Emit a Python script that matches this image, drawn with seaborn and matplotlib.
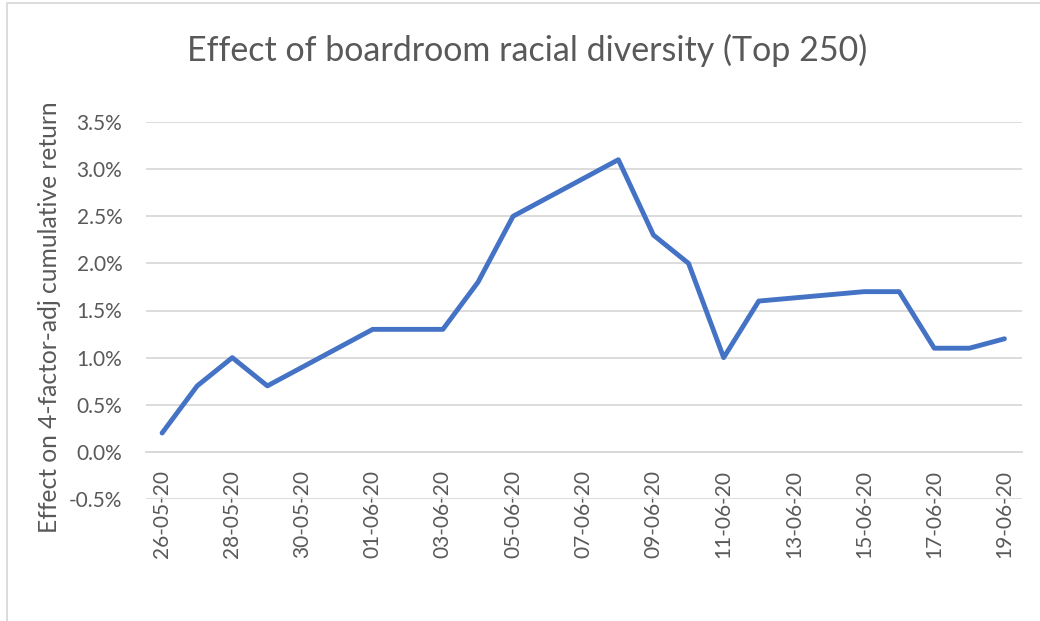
import matplotlib
matplotlib.use("Agg")
import matplotlib.pyplot as plt
import matplotlib.dates as mdates
from matplotlib.patches import Rectangle
from matplotlib.ticker import FuncFormatter
import seaborn as sns
import pandas as pd

dates = ["2020-05-26", "2020-05-27", "2020-05-28", "2020-05-29", "2020-06-01",
         "2020-06-02", "2020-06-03", "2020-06-04", "2020-06-05", "2020-06-08",
         "2020-06-09", "2020-06-10", "2020-06-11", "2020-06-12", "2020-06-15",
         "2020-06-16", "2020-06-17", "2020-06-18", "2020-06-19"]
effect = [0.2, 0.7, 1.0, 0.7, 1.3, 1.3, 1.3, 1.8, 2.5, 3.1,
          2.3, 2.0, 1.0, 1.6, 1.7, 1.7, 1.1, 1.1, 1.2]
tick_dates = ["2020-05-26", "2020-05-28", "2020-05-30", "2020-06-01", "2020-06-03",
              "2020-06-05", "2020-06-07", "2020-06-09", "2020-06-11", "2020-06-13",
              "2020-06-15", "2020-06-17", "2020-06-19"]
y_ticks = [-0.5, 0.0, 0.5, 1.0, 1.5, 2.0, 2.5, 3.0, 3.5]

title = "Effect of boardroom racial diversity (Top 250)"
ylabel = "Effect on 4-factor-adj cumulative return"

sns.set_theme(style="white")
plt.rcParams['font.family'] = ['Lato', 'DejaVu Sans']

df = pd.DataFrame({"date": pd.to_datetime(dates), "effect": effect})

fig = plt.figure(figsize=(10.4, 6.21), dpi=100)
ax = fig.add_axes([146/1040, 1-499/621, (1022-146)/1040, (499-122)/621])

text_color = "#595959"
grid_color = "#D9D9D9"

sns.lineplot(data=df, x="date", y="effect", ax=ax, color="#4472C4",
             linewidth=3.5, solid_joinstyle="round", solid_capstyle="round")

tks = pd.to_datetime(tick_dates)
ax.set_xticks(tks)
ax.xaxis.set_major_formatter(mdates.DateFormatter("%d-%m-%y"))
ax.set_xlim(df["date"].iloc[0] - pd.Timedelta(hours=11), df["date"].iloc[-1] + pd.Timedelta(hours=12))
ax.set_ylim(-0.5, 3.5)
ax.set_yticks(y_ticks)
ax.yaxis.set_major_formatter(FuncFormatter(lambda v, p: f"{v:.1f}%"))

ax.grid(axis="y", color=grid_color, linewidth=1.3)
ax.set_axisbelow(True)
for s in ["top", "right", "left"]:
    ax.spines[s].set_visible(False)
ax.spines["bottom"].set_position(("data", 0))
ax.spines["bottom"].set_color(grid_color)
ax.spines["bottom"].set_linewidth(1.3)

ax.tick_params(axis="x", length=0, pad=13, labelsize=15, labelcolor=text_color, rotation=90)
ax.tick_params(axis="y", length=0, pad=17, labelsize=15, labelcolor=text_color)

ax.set_xlabel("")
ax.set_ylabel(ylabel, fontsize=17.7, color=text_color)
ax.yaxis.set_label_coords(-(146-61)/876, (499-317)/377)

fig.text(527/1040, 1-50/621, title, ha="center", va="center", fontsize=24.5, color=text_color)

fig.patches.append(Rectangle((7/1040, -0.1), 2.0, 1-3/621+0.1, transform=fig.transFigure,
                             fill=False, edgecolor="#D9D9D9", linewidth=1.3))

fig.savefig("out.png", dpi=100)
